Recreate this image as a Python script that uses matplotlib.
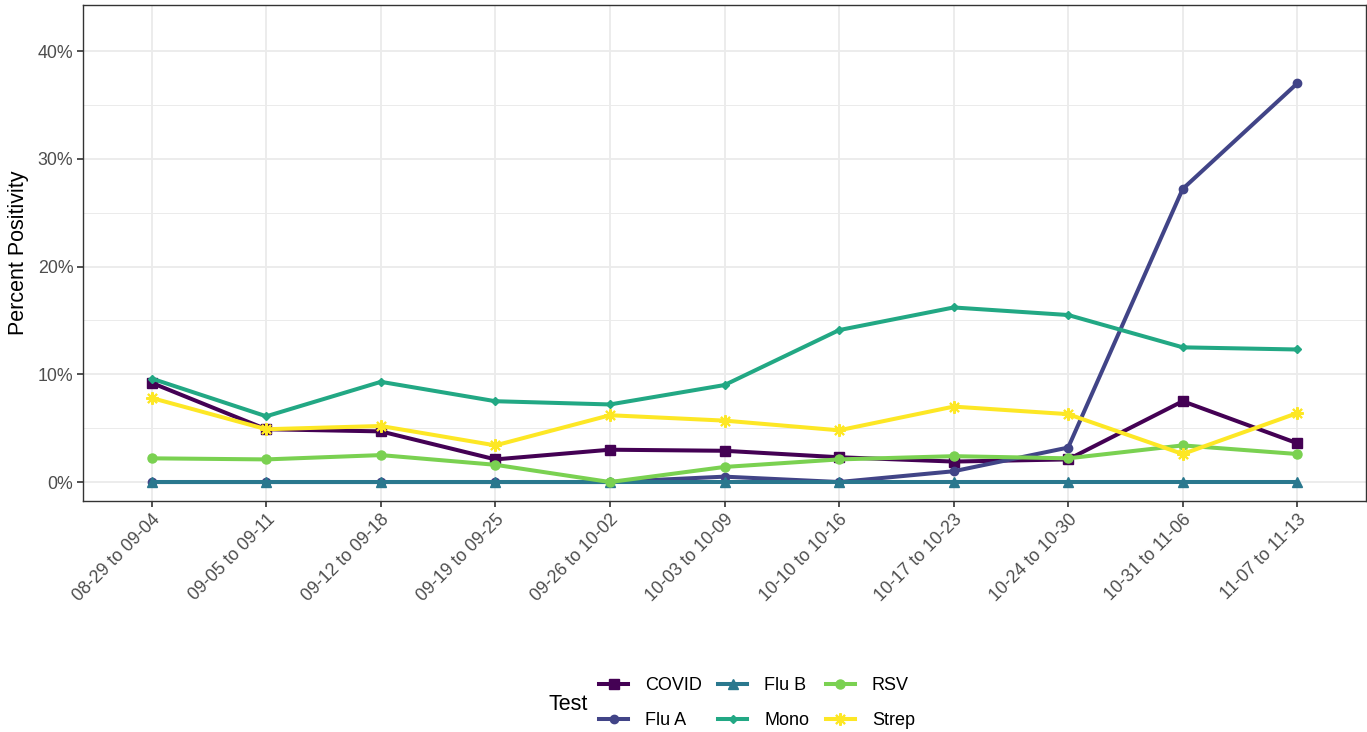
import matplotlib
matplotlib.use("Agg")
import matplotlib.pyplot as plt
from matplotlib.ticker import FixedLocator, FuncFormatter
from matplotlib.lines import Line2D

plt.rcParams['font.family'] = ['Liberation Sans', 'DejaVu Sans']

weeks = ["08-29 to 09-04", "09-05 to 09-11", "09-12 to 09-18", "09-19 to 09-25",
         "09-26 to 10-02", "10-03 to 10-09", "10-10 to 10-16", "10-17 to 10-23",
         "10-24 to 10-30", "10-31 to 11-06", "11-07 to 11-13"]

covid = [9.2, 4.9, 4.7, 2.1, 3.0, 2.9, 2.3, 1.9, 2.1, 7.5, 3.6]
flu_a = [0.0, 0.0, 0.0, 0.0, 0.0, 0.5, 0.0, 1.0, 3.2, 27.2, 37.0]
flu_b = [0.0, 0.0, 0.0, 0.0, 0.0, 0.0, 0.0, 0.0, 0.0, 0.0, 0.0]
mono = [9.6, 6.1, 9.3, 7.5, 7.2, 9.0, 14.1, 16.2, 15.5, 12.5, 12.3]
rsv = [2.2, 2.1, 2.5, 1.6, 0.0, 1.4, 2.1, 2.4, 2.2, 3.4, 2.6]
strep = [7.8, 4.9, 5.2, 3.4, 6.2, 5.7, 4.8, 7.0, 6.3, 2.6, 6.4]

tests = ["COVID", "Flu A", "Flu B", "Mono", "RSV", "Strep"]
series = [covid, flu_a, flu_b, mono, rsv, strep]
colors = ["#440154", "#414487", "#2A788E", "#22A884", "#7AD151", "#FDE725"]
markers = ["s", "o", "^", "D", "o", (8, 2, 0)]
msizes = [6.5, 6, 7, 4.5, 6.5, 9]

fig = plt.figure(figsize=(13.67, 7.32), dpi=100)
ax = fig.add_axes([83/1367, 1 - 501/732, (1366 - 83)/1367, (501 - 5)/732])

x = list(range(len(weeks)))
for name, vals, c, m, ms in zip(tests, series, colors, markers, msizes):
    ax.plot(x, vals, color=c, lw=2.9, marker=m, ms=ms, mec=c, mfc=c,
            mew=1.5 if m == (8, 2, 0) else 1, label=name, solid_capstyle='butt', zorder=3)

ax.set_xlim(-0.6, len(weeks) - 1 + 0.6)
ax.set_ylim(-1.76, 44.27)
ax.set_xticks(x)
ax.set_xticklabels(weeks, rotation=45, ha='right', va='top', rotation_mode='anchor')
ax.yaxis.set_major_locator(FixedLocator([0, 10, 20, 30, 40]))
ax.yaxis.set_minor_locator(FixedLocator([5, 15, 25, 35]))
ax.yaxis.set_major_formatter(FuncFormatter(lambda v, p: f"{int(v)}%"))

ax.set_facecolor('white')
ax.grid(which='major', color='#EBEBEB', lw=1.3, zorder=0)
ax.grid(which='minor', axis='y', color='#EBEBEB', lw=0.7, zorder=0)
ax.set_axisbelow(True)
for s in ax.spines.values():
    s.set_color('#333333')
    s.set_linewidth(1.0)

ax.tick_params(axis='both', which='major', length=4, width=1.2, color='#333333',
               labelsize=12.8, labelcolor='#4D4D4D', pad=3)
ax.tick_params(axis='y', which='minor', length=0)
ax.set_ylabel("Percent Positivity", fontsize=15.5, color='black', labelpad=6)

handles = [Line2D([0], [0], color=c, lw=2.9, marker=m, ms=ms, mec=c, mfc=c,
                  mew=1.5 if m == (8, 2, 0) else 1)
           for c, m, ms in zip(colors, markers, msizes)]
leg = fig.legend(handles, tests, ncol=3, loc='center', bbox_to_anchor=(757/1367, 1 - 703/732),
                 frameon=False, fontsize=13, handlelength=1.6, columnspacing=0.9,
                 handletextpad=0.95, labelspacing=1.0, borderpad=0.2)
fig.text(568/1367, 1 - 704/732, "Test", fontsize=15.5, ha='center', va='center')

fig.savefig("out.png", dpi=100)
